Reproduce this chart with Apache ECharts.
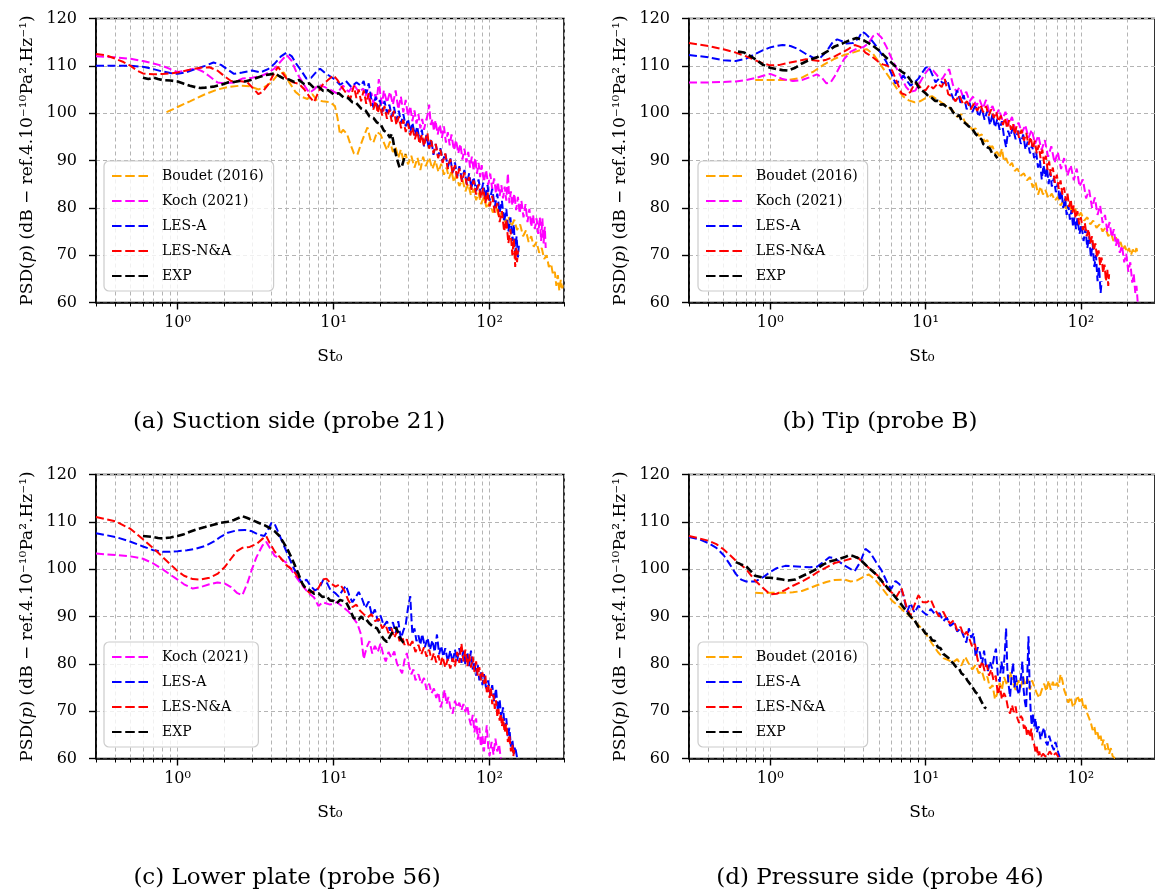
<!DOCTYPE html>
<html>
<head>
<meta charset="utf-8">
<script src="https://cdn.jsdelivr.net/npm/echarts@6/dist/echarts.min.js"></script>
<style>html,body{margin:0;padding:0;background:#fff;}</style>
</head>
<body>
<div id="main" style="width:1155px;height:895px"></div>
<script type="text/javascript">
// x ticks (log axis, decades + minor)
var xTickValues = [0.3,0.4,0.5,0.6,0.7,0.8,0.9,1,2,3,4,5,6,7,8,9,10,20,30,40,50,60,70,80,90,100,200,300];
var xLabelValues = [1, 10, 100];
var xLabelText = ['10\u2070', '10\u00b9', '10\u00b2'];
var yMin = 60, yMax = 120, yStep = 10;

// (a) Suction side (probe 21)
var aBoudet = [[0.85,100.2],[1.0,101.3],[1.2,102.5],[1.5,104],[1.8,105],[2.1,105.5],[2.5,105.8],[2.9,105.7],[3.3,105],[3.6,105.5],[4.0,106.5],[4.4,108.2],[4.8,108.6],[5.2,106.5],[5.7,104.5],[6.2,103.5],[6.8,103],[7.3,104],[7.8,102.8],[8.5,102.5],[9.5,102.3],[10.2,101.5],[10.6,99],[11.0,95.5],[11.5,96.5],[12.2,95.6],[12.8,93.5],[13.5,91.5],[14.2,91.2],[15.0,93.5],[15.8,95.5],[16.5,97],[17.2,94.5],[18.0,93.8],[19.0,96],[20,95.5],[21,93.8],[22,92.2],[23,94],[24,91.8],[25,92.8],[26,90.5],[27,92.3],[28,90],[29,91.4],[30,89.2],[31.5,91],[33,88.5],[34.5,90.6],[36,88],[37.5,90.8],[39,88.8],[41,90.6],[43,88.2],[45,90],[47,87.6],[49,89.3],[51,87],[53,88.5],[55,86.2],[57,87.8],[59,85.4],[61,86.8],[64,84.6],[67,86],[70,83.5],[73,85],[76,82.6],[79,84],[82,81.6],[85,83.2],[88,80.8],[92,82.3],[96,79.8],[100,81.2],[105,79],[110,80.2],[115,78],[120,79.2],[126,77],[132,78.2],[138,76],[144,77.5],[150,75.3],[157,76.5],[164,74],[171,75.2],[178,72.8],[185,74],[192,71.8],[200,72.8],[208,70.5],[216,71.5],[224,69.2],[232,70],[240,67.5],[248,68.2],[255,65.8],[262,66.5],[268,63.5],[274,65.8],[280,62.5],[286,64.8],[292,63],[297,64]];
var aKoch = [[0.3,112],[0.4,111.8],[0.5,111.5],[0.6,111],[0.7,110.5],[0.8,110],[0.9,109.3],[1.0,108.7],[1.15,109],[1.3,109.5],[1.45,108.8],[1.6,107.8],[1.8,106.5],[2.0,106.3],[2.3,106.5],[2.6,107.3],[3.0,107.5],[3.4,107.8],[3.8,108.5],[4.2,109.5],[4.6,111],[5.0,112.3],[5.4,111],[5.8,108.5],[6.2,107],[6.6,105.5],[7.0,104.3],[7.5,105],[8.0,106],[8.8,105.5],[9.5,105],[10.5,104.2],[11.5,105.8],[12.5,104.5],[13.5,106],[14.5,104.5],[15.5,105.2],[16,103.5],[16.5,105],[17,102.5],[17.5,104.3],[18,102],[18.5,104],[19,103],[19.5,107.2],[20,103.5],[20.5,102],[21,104.8],[22,102.2],[23,104.5],[24,101.8],[25,104.8],[26,100.8],[27,103.5],[28,100.2],[29,102.8],[30,99.3],[31,101.5],[32,98.3],[33,100.6],[34,97.8],[35,99.8],[36,96.8],[37,98.8],[38,96.5],[39,98.2],[40,99.5],[41,101.8],[42,97.5],[43,98.8],[44,96.2],[45,98.5],[46.5,95.5],[48,97.6],[49.5,94.8],[51,97.2],[52.5,93.8],[54,96],[55.5,93.2],[57,95.5],[59,92.2],[61,94.3],[63,91.5],[65,93.5],[67,90.2],[69,92.5],[71,89.6],[73,91.8],[75,88.5],[77,90.8],[79,88],[81,90.5],[83,87.2],[85,89.5],[87,86.5],[89,89],[92,85.5],[95,88],[98,84.8],[101,87.2],[104,84],[107,86.2],[110,83],[113,85.5],[116,82.5],[119,84.8],[122,82],[125,84.5],[128,81.5],[131,87.3],[134,81],[137,83.5],[140,80.5],[144,83],[148,79.5],[152,82.3],[156,78.8],[160,81.5],[165,78],[170,80.8],[175,77],[180,79.8],[185,76],[190,78.5],[195,75.5],[200,77.8],[205,74.5],[210,78],[214,73],[218,77.8],[222,72.5],[226,76],[229,71.5]];
var aLesA = [[0.3,110],[0.4,110],[0.5,110],[0.6,109.8],[0.7,109.3],[0.8,108.8],[0.9,108.5],[1.0,108.3],[1.15,108.7],[1.3,109.3],[1.5,110],[1.7,110.7],[1.9,110.2],[2.1,109.2],[2.3,108.3],[2.6,108.6],[3.0,109],[3.4,108.6],[3.8,109.3],[4.2,110.5],[4.6,112],[5.0,112.8],[5.4,112],[5.8,110.3],[6.2,109],[6.7,107.3],[7.2,107.5],[7.7,108.6],[8.2,109.4],[8.8,108.5],[9.5,107.8],[10.3,107],[11,106],[12,106.8],[13,105.5],[14,106.5],[15,105.8],[15.6,106.8],[16.2,104.2],[16.8,106.3],[17.4,103.2],[18,101.2],[18.6,103.5],[19.2,101],[19.8,102.8],[20.5,100.2],[21.2,102.6],[22,100],[22.8,101.8],[23.6,99.2],[24.4,101.3],[25.3,98.5],[26.2,100.5],[27.1,97.8],[28,99.8],[29,97.2],[30,98.8],[31,96],[32,98],[33.2,95.3],[34.4,97.2],[35.6,94],[36.8,96.5],[38,93],[39.4,95.4],[40.8,92.5],[42.2,94.6],[43.7,91.2],[45.2,93.5],[46.8,90.8],[48.4,92.6],[50,89.8],[52,91.5],[54,88.6],[56,90.5],[58,87.5],[60,89.6],[62,86.5],[64,88.8],[66.5,86],[69,88],[71.5,85],[74,87.3],[76.5,84.2],[79,86.5],[82,83.5],[85,86],[88,82.8],[91,85.3],[94,82],[97,84.8],[100,81.5],[104,84],[108,80.2],[112,83],[116,79],[120,81.5],[124,77],[128,79.8],[132,75],[136,78],[140,73],[143,76.5],[146,70.5],[149,74],[152,69.5],[154,72]];
var aLesNA = [[0.3,112.5],[0.35,112.2],[0.4,111.5],[0.45,110.8],[0.5,110],[0.55,109],[0.6,108.4],[0.7,108.2],[0.8,108.3],[0.9,108.4],[1.0,108.6],[1.2,109.2],[1.4,109.6],[1.6,109.7],[1.8,109],[2.0,107.8],[2.2,106.8],[2.5,106.8],[2.8,106.5],[3.1,105],[3.3,104],[3.5,104.5],[3.8,106],[4.1,108],[4.4,109.8],[4.7,108.5],[5.0,107.3],[5.5,106.5],[6.0,106.2],[6.5,105],[7.0,103.5],[7.5,102.3],[8.0,104.5],[8.5,106],[9.2,107],[10,108],[10.6,107],[11.3,105.5],[12,104.3],[12.8,103],[13.5,105.8],[14,103.2],[14.5,105],[15,102.5],[15.6,104.8],[16.2,102],[16.8,104.2],[17.4,101.5],[18,100.8],[18.6,102.6],[19.2,100],[19.8,101.8],[20.5,99.5],[21.2,101.5],[22,98.8],[22.8,100.8],[23.6,98.2],[24.4,100.5],[25.3,97.5],[26.2,99.3],[27.1,96.8],[28,98.6],[29,96],[30,97.8],[31,95.3],[32,97],[33.2,94.5],[34.4,96.2],[35.6,93.5],[36.8,95.5],[38,93],[39,94.8],[40,95.8],[41,92.5],[42.2,94.3],[43.7,91.5],[45.2,93.5],[46.8,90.5],[48.4,92.3],[50,89.5],[52,91.5],[54,88.2],[56,90.3],[58,87.2],[60,89],[62,86.3],[64,88.3],[66.5,85.5],[69,87.5],[71.5,84.8],[74,86.5],[76.5,83.8],[79,85.8],[82,82.8],[85,85],[88,82],[91,84.2],[94,81],[97,83.3],[100,80.3],[104,82.5],[108,79],[112,81],[116,77],[120,79.3],[124,75],[128,77.5],[132,72.5],[136,75.5],[140,70],[143,73.5],[146,67.5],[148,71.5],[150,68.5],[152,71]];
var aExp = [[0.6,107.5],[0.65,107.2],[0.7,107.5],[0.75,107.2],[0.8,107],[0.9,106.9],[1.0,106.7],[1.1,106.2],[1.2,105.8],[1.3,105.5],[1.4,105.3],[1.5,105.4],[1.7,105.6],[1.9,106],[2.1,106.5],[2.3,106.6],[2.5,106.8],[2.7,106.7],[3.0,107.1],[3.3,107.6],[3.6,108],[3.9,108.2],[4.2,108.4],[4.5,107.8],[4.8,107.3],[5.2,107.1],[5.6,106.6],[6.0,107],[6.5,106.1],[7.0,106.3],[7.5,105.3],[8.0,105.6],[8.6,104.7],[9.2,104.9],[10,104],[10.8,104.2],[11.6,103.3],[12.4,103.2],[13.2,102.3],[14,102.1],[15,101],[16,100.6],[17,99.3],[18,99],[19,98],[20,97.7],[21,96.3],[22,95.9],[23,94.8],[23.6,95.6],[24,94.5],[24.5,92.8],[25,91.5],[25.5,90.3],[26,89.4],[26.5,88.5],[27,88.2],[27.5,88.9],[28,89.8],[28.5,90.8],[29,91.3]];

// (b) Tip (probe B)
var bBoudet = [[0.8,107],[1.0,107],[1.3,107],[1.6,107.5],[1.9,108.8],[2.2,110.2],[2.6,111.5],[3.0,112.3],[3.4,112.8],[3.8,113.3],[4.2,113.5],[4.6,112.5],[5.0,110.8],[5.5,108.8],[6.0,107],[6.6,105],[7.2,103.5],[7.8,102.7],[8.5,102.3],[9.2,102.5],[10,103.2],[11,103.6],[12,102.8],[13,102],[14,101.3],[15,100.5],[16,99.2],[17,99.8],[18,98],[19,97.5],[20,96.5],[21,96.8],[22,95.2],[23,95.5],[24,94],[25,94.3],[26,92.8],[27,93],[28,91.5],[29,91.8],[30,90.5],[31,92.5],[32,89.8],[33,90.5],[34.5,88.8],[36,89.5],[37.5,87.8],[39,88.3],[41,86.8],[43,87.3],[45,85.8],[47,86.5],[49,84.3],[51,85.5],[53,82.8],[55,84.5],[57,82.8],[59,83.8],[62,82],[65,83],[68,81.5],[71,82.3],[74,80.5],[77,81.5],[80,79.8],[84,80.8],[88,79],[92,79.8],[96,78],[100,79],[105,77.3],[110,78],[115,76.5],[120,77.3],[126,75.8],[132,76.5],[138,75],[144,75.8],[150,74],[156,74.8],[162,73],[168,73.8],[174,72],[180,72.8],[186,71.2],[192,72],[198,70.6],[204,71.5],[210,70],[216,71.2],[222,70.3],[228,71.5],[232,70.2]];
var bKoch = [[0.3,106.5],[0.4,106.5],[0.5,106.6],[0.6,106.7],[0.7,107],[0.8,107.4],[0.9,107.9],[1.0,108.3],[1.1,107.8],[1.2,107.2],[1.4,106.8],[1.6,107],[1.8,107.6],[2.0,108.2],[2.15,107.5],[2.3,106.3],[2.45,106.5],[2.6,107.8],[2.8,109.8],[3.0,111.5],[3.3,113],[3.6,113.6],[4.0,114],[4.3,114.8],[4.6,116.3],[4.9,116.8],[5.2,116],[5.6,114],[6.0,111.8],[6.5,109.5],[7.0,107.5],[7.5,105.5],[8.0,104.5],[8.6,104.8],[9.2,106.5],[10,108.5],[10.6,109.5],[11.2,109],[12,107.8],[12.8,107.2],[13.5,108.5],[14.2,109.3],[15,106],[15.8,104.5],[16.6,105.5],[17.4,103.5],[18.3,104.5],[19.2,102.5],[20.2,103.5],[21.2,101.5],[22.3,102.8],[23.4,101],[24.5,102.8],[25.7,100.3],[27,101.5],[28.3,99.5],[29.7,100.8],[31.2,98.6],[32.7,100.3],[34.3,97.5],[36,99.2],[37.8,96.5],[39.7,98],[41.7,95.8],[43.8,97.5],[46,94.8],[48.3,96.5],[50.7,93.5],[53.2,95.3],[55.8,92.2],[58.6,94.3],[61.5,90.8],[64.5,93],[67.7,89.5],[71,91.8],[74.5,88.2],[78,90.5],[82,86.8],[86,89],[90,85.8],[94,88.3],[98,84.5],[103,86],[108,82],[113,83.8],[118,80],[123,82.2],[128,78.5],[133,80.5],[138,76.8],[143,78.5],[148,75],[153,77],[158,73.8],[163,75.5],[168,72],[173,73.8],[178,70.5],[184,72],[190,68.5],[196,70.3],[202,66.5],[208,68.5],[214,64.2],[219,66],[224,62],[228,63.5],[232,60.2]];
var bLesA = [[0.3,112.3],[0.4,111.8],[0.5,111.2],[0.6,111],[0.7,111.5],[0.8,112.5],[0.9,113.3],[1.0,113.9],[1.1,114.2],[1.2,114.4],[1.35,114.2],[1.5,113.6],[1.7,112.5],[1.9,111.7],[2.1,111.7],[2.3,113],[2.5,114.8],[2.7,115.6],[2.9,115.2],[3.1,114.7],[3.4,114.8],[3.7,115.8],[3.9,117.2],[4.1,116.8],[4.4,115.8],[4.8,114.2],[5.2,112.5],[5.6,110.8],[6.0,108.5],[6.4,106.3],[6.8,106.8],[7.2,108],[7.6,106.8],[8.0,105.8],[8.5,106.5],[9.0,107.3],[9.5,108.5],[10,109.6],[10.5,109.8],[11,108.3],[11.6,106.5],[12.2,107.3],[13,106.2],[13.8,107],[14.5,104.5],[15.2,102.8],[16,104.8],[16.8,102.2],[17.6,103.8],[18.4,100.8],[19.2,102.2],[20,100.2],[21,101.8],[22,99.2],[23,101],[24,98.6],[25,100.5],[26,97.5],[27,99.8],[28,97],[29,98.8],[30,96.5],[31,98.3],[32,95],[33,92.8],[34,96.3],[35,95],[36.5,97],[38,94.5],[39.5,96.3],[41,93.5],[42.5,95.5],[44,92.3],[45.5,94],[47,91.5],[48.5,93.3],[50,90.5],[51.5,91.8],[53,88.5],[54.5,90],[56,86],[57.5,89],[59,86.5],[60.5,88.5],[62,85],[63.5,87.5],[65,84.5],[67,86.3],[69,83.3],[71,85.2],[73,81.5],[75,83.5],[77,80],[79,82],[81,78.5],[83,80.5],[85,77.5],[87,79.5],[89,76],[91,78],[93,75.5],[95,77.8],[98,74.5],[101,76.5],[104,73],[107,75.5],[110,71.5],[113,74],[116,69.5],[119,72.5],[122,67.5],[125,70],[128,64.5],[131,67.5],[134,62],[136,64.5]];
var bLesNA = [[0.3,114.8],[0.4,114.2],[0.5,113.5],[0.6,112.8],[0.7,112],[0.8,111.2],[0.9,110.5],[1.0,110.1],[1.15,110.2],[1.3,110.6],[1.5,111],[1.7,111.4],[1.9,111.2],[2.1,111],[2.3,111.3],[2.6,112],[2.9,112.8],[3.2,113.6],[3.5,114.4],[3.8,114],[4.1,112.8],[4.5,112],[4.9,111],[5.3,110.3],[5.7,110],[6.1,109],[6.5,106.8],[7.0,104.2],[7.5,103.8],[8.0,104.5],[8.5,106.3],[9.0,106],[9.5,105],[10,104.8],[10.6,106],[11.2,105.2],[12,106.3],[12.7,105.5],[13.3,107.2],[14,104],[14.8,103.5],[15.6,102.5],[16.5,103.8],[17.5,101.8],[18.5,102.5],[19.5,100.8],[20.5,102],[21.5,100.5],[22.5,101.8],[23.5,100.2],[24.5,101.5],[25.5,99.5],[26.5,100.8],[27.5,99],[28.5,100.3],[29.5,98.2],[30.5,99.5],[31.5,97.5],[32.5,99],[33.5,96.8],[34.5,98.5],[35.5,96.5],[36.5,97.8],[37.5,95.5],[38.5,97.2],[40,94.8],[41.5,96.5],[43,94.2],[44.5,95.8],[46,93.3],[47.5,95],[49,92.5],[50.5,94.2],[52,91.5],[53.5,93.3],[55,90.5],[56.5,92.3],[58,89.3],[59.5,91],[61,88],[62.5,89.8],[64,86.8],[66,88.5],[68,85.3],[70,87],[72,84],[74,85.8],[76,82.8],[78,84.3],[80,81.5],[82,83],[84,80.2],[86,81.8],[88,79],[90,80.5],[92.5,77.8],[95,79.3],[97.5,76.5],[100,78],[103,75.3],[106,76.8],[109,74],[112,75.5],[115,72.5],[118,74],[121,71],[124,72.5],[127,69.5],[130,71],[133,67.8],[136,69.5],[139,66.3],[142,68],[145,64.5],[148,67],[150,63.5],[152,66]];
var bExp = [[0.62,113],[0.68,112.8],[0.75,112],[0.82,111.2],[0.9,110.2],[1.0,109.6],[1.1,109.3],[1.2,109.1],[1.3,109],[1.45,109.6],[1.6,110.5],[1.8,111.3],[2.0,111.8],[2.2,112.6],[2.4,113.3],[2.6,114.1],[2.8,114.5],[3.0,114.9],[3.2,115.3],[3.4,115.6],[3.6,115.9],[3.8,115.6],[4.0,115.4],[4.3,114.8],[4.6,114.2],[5.0,113.3],[5.4,112.2],[5.8,111.2],[6.2,110.3],[6.6,109.5],[7.0,108.8],[7.4,108.3],[7.8,107.5],[8.2,106.5],[8.6,106.8],[9.0,105.5],[9.5,104.8],[10,104.2],[10.5,103.5],[11,103.2],[11.5,102.6],[12,102.6],[12.5,101.8],[13,101.9],[14,101],[14.5,101.1],[15,100.2],[16,99.4],[16.5,99.6],[17,98.5],[18,97.9],[18.5,98],[19,97.2],[20,96.7],[21,95.6],[21.5,95.9],[22,95],[23,94.4],[23.5,93.5],[24,93.8],[25,92.8],[26,92.5],[27,91.3],[28,91.2],[29,90.5]];

// (c) Lower plate (probe 56)
var cKoch = [[0.3,103.3],[0.4,103],[0.5,102.7],[0.6,102.2],[0.7,101.2],[0.8,100],[0.9,98.8],[1.0,97.8],[1.1,96.8],[1.25,95.9],[1.4,96.2],[1.6,96.8],[1.8,97.2],[2.0,97],[2.2,96.2],[2.4,95],[2.6,94.5],[2.8,97],[3.0,100],[3.2,102.5],[3.5,105],[3.7,105.8],[3.9,104.5],[4.2,102.8],[4.6,102.2],[5.0,101.3],[5.5,99.3],[6.0,97.5],[6.5,96],[7.0,94.8],[7.5,94],[8.0,92.2],[8.5,93],[9.5,92.5],[10.5,93],[11.5,92],[12.5,91],[13.5,89.5],[14.2,88.5],[15,86.2],[15.6,81],[16.3,83.5],[17,84.8],[17.7,82.2],[18.4,83.8],[19.2,82.5],[20,84.3],[20.8,82],[21.6,80.5],[22.5,82.5],[23.5,81.3],[24.5,82.6],[25.5,80],[26.5,79],[27.5,78],[28.5,80.8],[29.5,82.3],[30.5,79.5],[31.5,77.8],[32.5,78.8],[33.5,76.5],[35,77.8],[36.5,75.8],[38,77],[39.5,74.5],[41,75.8],[42.5,73.8],[44,74.8],[45.5,72.8],[47,74],[48.5,70.8],[50,72.2],[51.5,74.5],[53,71.5],[54.5,73],[56,70.8],[58,69.5],[60,72.2],[62,70.8],[64,71.8],[66,70.2],[68,71.5],[70,69.8],[72,71.2],[74,68.5],[76,67],[78,69.2],[80,65.5],[82,68.5],[84,64],[86,66.5],[88,62.5],[90,65],[92,61.5],[94,64.2],[96,67],[98,62.5],[100,60.5],[103,63.5],[106,60.8],[109,64.2],[112,61.5],[115,63],[118,60]];
var cLesA = [[0.3,107.6],[0.4,106.8],[0.5,105.8],[0.6,104.8],[0.7,104],[0.8,103.7],[0.9,103.7],[1.0,103.8],[1.15,104],[1.3,104.3],[1.5,104.9],[1.7,105.8],[1.9,106.9],[2.1,107.7],[2.4,108.2],[2.7,108.3],[3.0,108],[3.3,107.3],[3.6,107],[3.8,108.3],[4.0,109.8],[4.2,109.5],[4.5,107.2],[4.8,105],[5.1,103],[5.5,100.5],[5.9,98.5],[6.3,97],[6.7,97.8],[7.1,96.5],[7.6,95.5],[8.1,96],[8.6,97.8],[9.1,97],[9.6,95.5],[10.2,95],[10.8,94.2],[11.4,95.5],[12,96.5],[12.6,94.5],[13.2,93],[13.8,94],[14.5,95.2],[15.2,93.8],[16,91.8],[16.8,93.2],[17.6,90.2],[18.4,91.5],[19.2,89],[20,90.2],[21,88],[22,89],[23,87],[24,88.8],[25,86.5],[26,89],[27,85.3],[28,87],[29,88.3],[30,91.8],[31,94.3],[32,86.2],[33,87.5],[34,84.8],[35,86],[36,84],[37,86.3],[38.5,83.5],[40,85.5],[41.5,83],[43,85],[44.5,82.5],[46,86.2],[47.5,82],[49,83.8],[50.5,81.5],[52,83.3],[54,80.5],[56,82.8],[58,80.2],[60,83],[62,80.6],[64,83.3],[66,80.2],[68,82.8],[70,79.8],[72,82.5],[74,79.5],[76,82.8],[78,78.8],[80,80.5],[82,77.5],[84,79.8],[86,76.5],[88,78.2],[90,75.5],[92,77.8],[95,74.8],[98,76.5],[101,73.5],[104,75.5],[107,72],[110,74.8],[113,70],[116,72.5],[119,68.5],[122,70.8],[125,66.5],[128,68.5],[131,64.5],[134,66.5],[137,62.5],[140,64],[143,61],[146,62.5],[150,60.2]];
var cLesNA = [[0.3,111],[0.4,110.1],[0.5,108.5],[0.6,106.3],[0.7,104.4],[0.8,102.6],[0.9,101],[1.0,99.6],[1.1,98.6],[1.25,97.9],[1.4,97.8],[1.6,98.2],[1.8,99],[2.0,100.4],[2.2,102.2],[2.4,103.8],[2.6,104.5],[2.9,104.7],[3.2,105.3],[3.5,106.4],[3.7,107],[3.9,105.5],[4.2,103.7],[4.6,102.3],[5.0,100.8],[5.5,99.8],[6.0,98],[6.5,96.2],[7.0,95],[7.5,95.3],[8.0,96],[8.5,97.8],[9.0,98],[9.6,97],[10.3,96.3],[11,96.8],[11.7,95.5],[12.4,93.5],[13.2,92],[14,92.5],[14.8,91.2],[15.6,90.5],[16.5,89.8],[17.5,90.5],[18.5,89],[19.5,89.5],[20.5,87.5],[21.5,88.3],[22.5,86.5],[23.5,87.5],[24.5,85.5],[25.5,86.8],[26.5,84.8],[27.5,85.8],[28.5,84],[29.5,85.2],[30.5,83.5],[32,84.8],[33.5,82.5],[35,84],[36.5,82],[38,83.5],[39.5,81.5],[41,83],[42.5,80.8],[44,82.3],[45.5,80.3],[47,81.8],[48.5,79.8],[50,81.5],[52,79.2],[54,81],[56,79],[58,81.2],[60,79.5],[62,82.5],[64,80.2],[66,84.3],[68,80.5],[70,83],[72,79.5],[74,82],[76,79.2],[78,81.5],[80,78.3],[82,80.5],[84,77.5],[86,79.3],[88,76.5],[90,78.2],[92,75.8],[94,77.5],[96,74],[98,75.5],[100,72.8],[102,74.8],[104,71.5],[106,73.5],[108,70.5],[110,72.3],[112,69],[114,70.5],[116,68],[118,69.5],[120,66.8],[122,68.5],[125,65.5],[128,67.3],[131,63.5],[134,65],[137,61.5],[140,63],[142,60.5],[144,61.8]];
var cExp = [[0.6,107],[0.65,106.9],[0.7,106.8],[0.75,106.6],[0.8,106.5],[0.9,106.7],[1.0,107],[1.1,107.4],[1.2,107.9],[1.35,108.5],[1.5,108.9],[1.7,109.4],[1.9,109.8],[2.1,110],[2.3,110.4],[2.5,110.9],[2.6,111.2],[2.8,110.8],[3.0,110.4],[3.3,109.8],[3.6,109.3],[3.9,108.7],[4.2,108],[4.5,107],[4.8,105.5],[5.1,104],[5.4,102.3],[5.7,100.5],[6.0,98.7],[6.3,97],[6.6,96],[7.0,95.6],[7.5,94.8],[8.0,94.9],[8.5,94.1],[9.0,94.3],[9.5,93.4],[10,93.3],[10.5,92.8],[11,93.5],[11.5,93.3],[12,93.1],[12.5,92],[13,90.7],[13.5,89.6],[14,89.7],[14.5,89.3],[15,90],[15.5,89.5],[16,89.6],[17,88.5],[17.5,88.8],[18,87.8],[19,87.5],[19.5,86.8],[20,86.5],[21,85.2],[21.5,85.6],[22,84.6],[23,85.8],[24,86.9],[24.5,86.5],[25,87.7],[26,86.6],[26.5,85.6],[27,85.9],[28,84.5],[29,84.1]];

// (d) Pressure side (probe 46)
var dBoudet = [[0.8,95],[0.9,94.9],[1.0,95],[1.2,95],[1.4,95.1],[1.6,95.4],[1.8,96],[2.0,96.6],[2.3,97.3],[2.6,97.7],[3.0,97.8],[3.3,97.4],[3.6,97.6],[4.0,98.4],[4.3,98.9],[4.7,97.9],[5.1,96.5],[5.6,94.8],[6.1,93.3],[6.7,92.2],[7.3,91],[8.0,90],[8.7,88.7],[9.4,87.5],[10.2,86],[11,84.3],[12,82.5],[13,81.2],[14,80.8],[15,80.3],[16,81],[17,79.6],[18,81.5],[19,80],[20,78.8],[21,79.8],[22,78],[23,78.5],[24,76.5],[25,77.3],[26,74.8],[27,75.5],[28,72.5],[29,73.8],[30,76],[31,74.5],[32,77.2],[33.5,75.5],[35,78.3],[36.5,76],[38,74.5],[39.5,76.5],[41,75],[42.5,77.2],[44,75.5],[45.5,76.8],[47,74.5],[48.5,76.5],[50,75.2],[52,73.8],[54,72.8],[56,74.5],[58,75.8],[60,74.2],[62,76.5],[64,74.5],[66,76.2],[68,75],[70,76],[72,75.2],[74,77.8],[76,76.5],[78,74.5],[80,73.5],[83,71.8],[86,73],[89,70.8],[92,71.8],[95,73.3],[98,72],[101,73],[104,70.5],[107,71.3],[110,69.5],[113,68.5],[116,67.5],[119,66],[122,66.8],[125,64.8],[128,65.5],[131,63.8],[134,64.8],[137,62.8],[140,64],[144,61.8],[148,63.2],[152,61],[156,62.2],[160,60.5],[166,60]];
var dLesA = [[0.3,106.8],[0.35,106.3],[0.4,105.5],[0.45,104.5],[0.5,103],[0.55,101],[0.6,99],[0.65,97.8],[0.7,97.4],[0.8,97.4],[0.9,98.3],[1.0,99.4],[1.1,100.2],[1.25,100.7],[1.4,100.6],[1.6,100.5],[1.8,100.4],[2.0,100.5],[2.2,101.5],[2.4,102.5],[2.6,102.3],[2.8,101.5],[3.0,100.8],[3.3,100],[3.5,99.6],[3.8,101.5],[4.1,104.3],[4.4,103.5],[4.8,101.5],[5.2,99.8],[5.6,97.5],[6.0,95.8],[6.4,97.5],[6.8,96.8],[7.2,94.5],[7.6,91],[8.0,92.8],[8.5,90.8],[9.0,92.3],[9.6,91],[10.2,90.3],[10.8,91.6],[11.5,90.5],[12.3,90.7],[13,89],[13.7,89.8],[14.4,88],[15.2,88.6],[16,86.8],[16.8,87.5],[17.6,85.8],[18.3,84.5],[19,87.5],[19.7,85.5],[20.4,86.5],[21,81.5],[21.7,83.5],[22.4,82.3],[23.1,80],[23.8,82.8],[24.5,79.5],[25.2,78.5],[26,80.5],[26.8,79],[27.6,81.5],[28.4,83.2],[29.2,77.5],[30,76.2],[30.8,80.5],[31.6,78],[32.4,82.5],[33,87.5],[33.6,79],[34.2,75.8],[35,73],[35.8,77.5],[36.6,80.2],[37.4,75],[38.2,77.5],[39,74.5],[40,73.5],[41,76.5],[42,80.5],[42.8,74.5],[43.6,72],[44.4,70.5],[45.2,78],[46,85.8],[46.8,75],[47.5,70],[48.2,67],[49,69.5],[50,66.8],[51,68.5],[52,65.5],[53.5,66.8],[55,64],[56.5,65.5],[58,66.5],[59.5,63.5],[61,62.8],[62.5,64.8],[64,65.2],[65.5,62.5],[67,61.8],[68.5,63.5],[70,62.5],[71.5,61.2],[73,60.3]];
var dLesNA = [[0.3,107],[0.35,106.5],[0.4,106],[0.45,105.3],[0.5,104.2],[0.55,103],[0.6,101.8],[0.7,100],[0.8,97.6],[0.9,96],[1.0,94.7],[1.1,94.8],[1.25,95.6],[1.4,96.5],[1.6,97.4],[1.8,98.3],[2.0,99.3],[2.3,100.4],[2.6,101.3],[3.0,101.8],[3.3,102.2],[3.6,102.6],[3.9,101.6],[4.3,100.3],[4.7,99.2],[5.1,98.2],[5.5,96.2],[6.0,95.2],[6.5,94.2],[7.0,96],[7.5,92.3],[8.0,90.2],[8.5,92.5],[9.0,94.5],[9.6,93],[10.2,93],[10.8,93.6],[11.5,91.5],[12.2,90],[13,91],[13.7,89.5],[14.4,88.5],[15.2,89.2],[16,87],[16.8,87.8],[17.6,86],[18.4,86.8],[19.2,85.2],[20,83.5],[20.8,84.2],[21.6,81],[22.4,79.2],[23.2,80.5],[24,78.5],[24.8,79.8],[25.6,77.5],[26.5,78.8],[27.4,76.5],[28.3,77.5],[29.2,73.5],[30.1,75.3],[31,72.5],[32,73.8],[33,72.8],[34,70.5],[35,69.5],[36,71.3],[37,69.8],[38,71],[39,68.5],[40,67.5],[41,69],[42,68.5],[43,66.3],[44,67.2],[45,64.8],[46,66],[47,64.5],[48,66.3],[49,63.5],[50,63],[51,61.5],[52,62.5],[53,60.5],[54,61.5],[55,60.2],[57,61],[60,60.2],[63,61.5],[66,60.5],[69,61.2],[72,60.2]];
var dExp = [[0.6,101.5],[0.65,101],[0.7,100.6],[0.75,99.6],[0.8,98.6],[0.9,98.2],[1.0,98.2],[1.1,98],[1.2,97.8],[1.3,97.6],[1.45,97.8],[1.6,98.5],[1.8,99.3],[2.0,100.1],[2.2,101],[2.4,101.6],[2.6,101.9],[2.8,102.2],[3.0,102.5],[3.2,102.9],[3.4,102.8],[3.7,102.3],[4.0,101.3],[4.3,100.3],[4.7,99.2],[5.1,97.9],[5.5,96.6],[6.0,95.2],[6.5,93.8],[7.0,92.5],[7.5,91.2],[8.0,90],[8.5,89.2],[9.0,87.8],[9.5,87.5],[10,86.4],[10.5,86.2],[11,85],[11.5,84.8],[12,83.5],[12.5,83.3],[13,82.1],[14,81.3],[14.5,80.6],[15,80.2],[16,79],[16.5,78.9],[17,78],[18,77.4],[18.5,76.6],[19,76.5],[20,75.1],[20.5,75],[21,74],[22,73.4],[22.5,72.5],[23,72.4],[24,70.8],[24.6,70.6]];

var colors = {
    'Boudet (2016)': '#ffa500',
    'Koch (2021)': '#ff00ff',
    'LES-A': '#0000ff',
    'LES-N&A': '#ff0000',
    'EXP': '#000000'
};

var panels = [
    { grid: [96, 18.5], legend: [104, 161], caption: '(a) Suction side (probe 21)', capPos: [289, 422],
      lines: [['Boudet (2016)', aBoudet], ['Koch (2021)', aKoch], ['LES-A', aLesA], ['LES-N&A', aLesNA], ['EXP', aExp]] },
    { grid: [689, 18.5], legend: [698, 161], caption: '(b) Tip (probe B)', capPos: [880, 422],
      lines: [['Boudet (2016)', bBoudet], ['Koch (2021)', bKoch], ['LES-A', bLesA], ['LES-N&A', bLesNA], ['EXP', bExp]] },
    { grid: [96, 474.5], legend: [104, 642], caption: '(c) Lower plate (probe 56)', capPos: [287, 878],
      lines: [['Koch (2021)', cKoch], ['LES-A', cLesA], ['LES-N&A', cLesNA], ['EXP', cExp]] },
    { grid: [689, 474.5], legend: [698, 642], caption: '(d) Pressure side (probe 46)', capPos: [880, 878],
      lines: [['Boudet (2016)', dBoudet], ['LES-A', dLesA], ['LES-N&A', dLesNA], ['EXP', dExp]] }
];

var FONT = 'DejaVu Serif';
var dashIcon = 'path://M0,0H9.5V2H0ZM13.2,0H22.7V2H13.2ZM26.4,0H35.9V2H26.4Z';
var gridLine = { color: '#b4b4b4', width: 1, type: [4, 3] };

var myChart = echarts.init(document.getElementById('main'));
var option = {
    backgroundColor: '#fff',
    animation: false,
    grid: [], xAxis: [], yAxis: [], legend: [], series: [], graphic: []
};

panels.forEach(function (p, i) {
    option.grid.push({
        left: p.grid[0], top: p.grid[1], width: 468, height: 284,
        show: true, borderColor: '#000', borderWidth: 1.6, backgroundColor: 'transparent'
    });
    // main x axis: minor+major ticks, grid lines, labels
    option.xAxis.push({
        gridIndex: i, type: 'log', logBase: 10, min: 0.3, max: 300, position: 'bottom',
        name: 'St\u2080', nameLocation: 'middle', nameGap: 46,
        nameTextStyle: { fontFamily: FONT, fontSize: 17, color: '#000' },
        axisLine: { show: true, lineStyle: { color: '#000', width: 1.6 } },
        axisTick: { show: true, length: 4, customValues: xTickValues, lineStyle: { color: '#000', width: 1 } },
        splitLine: { show: true, lineStyle: gridLine },
        axisLabel: {
            customValues: xLabelValues, margin: 12, color: '#000', fontFamily: FONT, fontSize: 16,
            formatter: function (v) { return xLabelText[Math.round(Math.log10(v))]; }
        }
    });
    // overlay axis just for the longer decade ticks
    option.xAxis.push({
        gridIndex: i, type: 'log', logBase: 10, min: 0.3, max: 300, position: 'bottom',
        axisLine: { show: false },
        axisTick: { show: true, length: 7, customValues: xLabelValues, lineStyle: { color: '#000', width: 1.4 } },
        splitLine: { show: false },
        axisLabel: { show: false }
    });
    option.yAxis.push({
        gridIndex: i, type: 'value', min: yMin, max: yMax, interval: yStep,
        name: '{t|PSD(}{i|p}{t|) (dB \u2212 ref.4.10\u207b\u00b9\u2070Pa\u00b2.Hz\u207b\u00b9)}',
        nameLocation: 'middle', nameGap: 60, nameRotate: 90,
        nameTextStyle: {
            rich: {
                t: { fontFamily: FONT, fontSize: 17, color: '#000' },
                i: { fontFamily: FONT, fontSize: 17, fontStyle: 'italic', color: '#000' }
            }
        },
        axisLine: { show: true, lineStyle: { color: '#000', width: 1.6 } },
        axisTick: { show: true, length: 7, lineStyle: { color: '#000', width: 1.4 } },
        splitLine: { show: true, lineStyle: gridLine },
        axisLabel: { margin: 19, color: '#000', fontFamily: FONT, fontSize: 16 }
    });
    option.legend.push({
        data: p.lines.map(function (l) { return l[0]; }),
        orient: 'vertical', left: p.legend[0], top: p.legend[1],
        icon: dashIcon, itemWidth: 36, itemHeight: 2.2, itemGap: 11,
        selectedMode: false,
        padding: [8, 10, 8, 8],
        backgroundColor: 'rgba(255,255,255,0.8)', borderColor: '#cccccc', borderWidth: 1.2, borderRadius: 5,
        itemStyle: { borderWidth: 0 },
        textStyle: { fontFamily: FONT, fontSize: 14, color: '#000', padding: [0, 0, 0, 9] }
    });
    p.lines.forEach(function (l) {
        option.series.push({
            name: l[0], type: 'line', data: l[1],
            xAxisIndex: i * 2, yAxisIndex: i,
            showSymbol: false, symbol: 'none', silent: true,
            color: colors[l[0]],
            itemStyle: { color: colors[l[0]] },
            lineStyle: { color: colors[l[0]], width: l[0] === 'EXP' ? 2.6 : 2, type: [8, 3.5] },
            emphasis: { disabled: true }
        });
    });
    option.graphic.push({
        type: 'text', x: p.capPos[0], y: p.capPos[1],
        style: { text: p.caption, fill: '#000', font: '23px "DejaVu Serif"', textAlign: 'center', textVerticalAlign: 'middle' }
    });
});

myChart.setOption(option);
</script>
</body>
</html>
